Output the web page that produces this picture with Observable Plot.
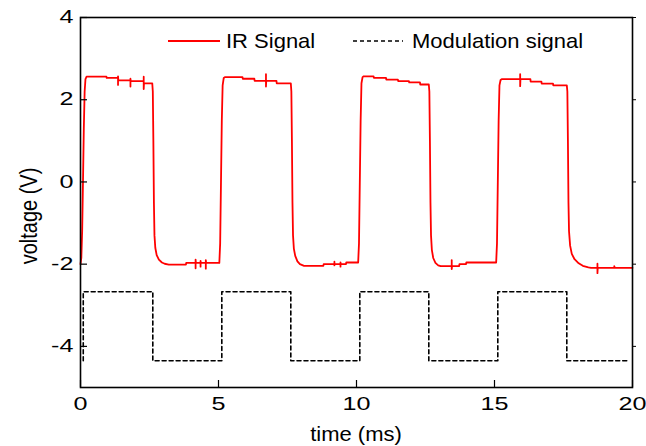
<!DOCTYPE html>
<html><head><meta charset="utf-8">
<script src="https://cdn.jsdelivr.net/npm/d3@7"></script>
<script src="https://cdn.jsdelivr.net/npm/@observablehq/plot@0.6"></script>
<style>body{margin:0;background:#fff}</style>
</head><body><div id="chart"></div>
<script>
// IR signal samples (time in ms, voltage in V)
const irTime = [
  0.00,0.03,0.06,0.09,0.12,0.15,0.18,0.22,0.94,0.95,1.36,1.36,1.36,1.37,1.81,1.81,1.81,1.82,2.29,2.29,2.29,2.30,2.60,
  2.62,2.64,2.66,2.68,2.71,2.76,2.84,2.95,3.05,3.20,3.82,3.83,4.17,4.17,4.17,4.18,4.35,4.35,4.35,4.36,4.54,4.54,4.54,4.55,5.03,
  5.06,5.09,5.12,5.15,5.19,5.23,5.87,5.88,6.30,6.31,6.72,6.72,6.72,6.73,7.10,7.11,7.62,
  7.64,7.66,7.68,7.70,7.73,7.78,7.86,7.95,8.10,8.80,8.81,9.20,9.20,9.20,9.21,9.42,9.42,9.42,9.43,9.62,9.63,10.06,
  10.09,10.12,10.15,10.18,10.22,10.26,10.62,10.63,11.07,11.08,11.50,11.51,11.90,11.91,12.30,12.31,12.62,
  12.64,12.66,12.68,12.70,12.73,12.78,12.86,12.96,13.05,13.45,13.45,13.45,13.46,13.72,13.73,13.97,13.98,15.06,
  15.09,15.12,15.15,15.18,15.22,15.26,15.93,15.93,15.93,15.94,16.30,16.31,16.70,16.71,17.12,17.13,17.62,
  17.64,17.66,17.68,17.70,17.74,17.80,17.90,18.05,18.20,18.40,18.50,18.73,18.73,18.73,18.74,19.34,19.34,19.36,20.00
];
const irVolt = [
  -2.00,-1.85,-1.20,0.00,1.30,2.20,2.50,2.56,2.56,2.53,2.53,2.36,2.57,2.47,2.47,2.32,2.51,2.45,2.45,2.56,2.26,2.40,2.40,
  2.20,1.00,-0.50,-1.30,-1.60,-1.78,-1.89,-1.96,-1.99,-2.01,-2.01,-1.97,-1.97,-2.10,-1.89,-1.97,-1.97,-2.06,-1.92,-1.97,-1.97,-2.11,-1.90,-1.97,-1.97,
  -1.50,0.00,1.50,2.35,2.53,2.55,2.55,2.51,2.51,2.46,2.46,2.62,2.32,2.46,2.46,2.40,2.40,
  2.20,1.00,-0.50,-1.30,-1.62,-1.80,-1.93,-2.00,-2.04,-2.04,-2.00,-2.00,-1.94,-2.03,-2.00,-2.00,-2.06,-1.96,-2.00,-2.00,-1.96,-1.96,
  -1.50,0.00,1.50,2.40,2.55,2.57,2.57,2.53,2.53,2.49,2.49,2.45,2.45,2.42,2.42,2.37,2.37,
  2.20,1.00,-0.50,-1.30,-1.65,-1.85,-1.97,-2.03,-2.05,-2.05,-1.90,-2.12,-2.05,-2.05,-2.00,-2.00,-1.96,-1.96,
  -1.50,0.00,1.50,2.35,2.48,2.50,2.50,2.62,2.33,2.50,2.50,2.44,2.44,2.39,2.39,2.35,2.35,
  2.20,1.00,-0.50,-1.20,-1.55,-1.75,-1.88,-1.98,-2.04,-2.08,-2.09,-2.09,-1.99,-2.22,-2.09,-2.09,-2.05,-2.09,-2.09
];
// Modulation signal corners
const modTime = [0.10,0.10,2.62,2.62,5.12,5.12,7.62,7.62,10.12,10.12,12.62,12.62,15.12,15.12,17.62,17.62,19.87];
const modVolt = [-4.35,-2.67,-2.67,-4.35,-4.35,-2.67,-2.67,-4.35,-4.35,-2.67,-2.67,-4.35,-4.35,-2.67,-2.67,-4.35,-4.35];

const xTicks = [0, 5, 10, 15, 20];
const yTicks = [-4, -2, 0, 2, 4];
const seriesNames = ["IR Signal", "Modulation signal"];
const xLabel = "time (ms)";
const yLabel = "voltage (V)";

const ir = irTime.map((t, i) => ({t, v: irVolt[i]}));
const mod = modTime.map((t, i) => ({t, v: modVolt[i]}));
const FONT = "'Liberation Sans', Arial, sans-serif";

const chart = Plot.plot({
  width: 646, height: 446,
  marginLeft: 80, marginRight: 14, marginTop: 17, marginBottom: 59,
  style: {fontFamily: FONT, fontSize: "18px", background: "white", color: "black"},
  x: {domain: [0, 20]},
  y: {domain: [-5, 4]},
  marks: [
    Plot.line(mod, {x: "t", y: "v", stroke: "black", strokeWidth: 1.6, strokeDasharray: "4,3"}),
    Plot.line(ir, {x: "t", y: "v", stroke: "#ff0000", strokeWidth: 1.8}),
    Plot.frame({stroke: "black", strokeWidth: 1.6}),
    Plot.axisY(yTicks, {anchor: "left", tickSize: 0, tickPadding: 7, label: null, tickFormat: d => String(d)}),
    Plot.axisY(yTicks, {anchor: "left", tickSize: 7, dx: 7, fill: "none", label: null, strokeWidth: 1.2}),
    Plot.axisY(yTicks, {anchor: "right", tickSize: 3, fill: "none", label: null}),
    Plot.axisX(xTicks, {anchor: "bottom", tickSize: 0, tickPadding: 10, label: null, tickFormat: d => String(d)}),
    Plot.axisX(xTicks, {anchor: "bottom", tickSize: 7, dy: -7, fill: "none", label: null, strokeWidth: 1.2})
  ]
});

// widen the tick labels like the reference's lettering
function stretch(el, sx, sy) {
  const tr = el.getAttribute("transform");
  if (tr) el.setAttribute("transform", tr + ` scale(${sx},${sy})`);
  else {
    const x = +el.getAttribute("x") || 0, y = +el.getAttribute("y") || 0;
    el.setAttribute("transform", `translate(${x},${y}) scale(${sx},${sy}) translate(${-x},${-y})`);
  }
}
chart.querySelectorAll("text").forEach(t => stretch(t, 1.4, 1));

const svg = d3.select(chart);
const g = svg.append("g").attr("font-family", FONT).attr("fill", "black");
// axis titles
g.append("text").attr("text-anchor", "middle").attr("font-size", 20)
  .attr("transform", "translate(356,441) scale(1.1,1)").text(xLabel);
g.append("text").attr("text-anchor", "middle").attr("font-size", 20)
  .attr("transform", "translate(37,216) rotate(-90) scale(1,1.15)").text(yLabel);
// legend (inside the plot area, top)
g.append("line").attr("x1", 168).attr("x2", 220).attr("y1", 41).attr("y2", 41)
  .attr("stroke", "#ff0000").attr("stroke-width", 1.8);
g.append("text").attr("text-anchor", "start").attr("font-size", 20)
  .attr("transform", "translate(226,48) scale(1.1,1)").text(seriesNames[0]);
g.append("line").attr("x1", 353).attr("x2", 403).attr("y1", 41).attr("y2", 41)
  .attr("stroke", "black").attr("stroke-width", 1.6).attr("stroke-dasharray", "4,3");
g.append("text").attr("text-anchor", "start").attr("font-size", 20)
  .attr("transform", "translate(412,48) scale(1.1,1)").text(seriesNames[1]);

document.getElementById("chart").appendChild(chart);
</script>
</body></html>
